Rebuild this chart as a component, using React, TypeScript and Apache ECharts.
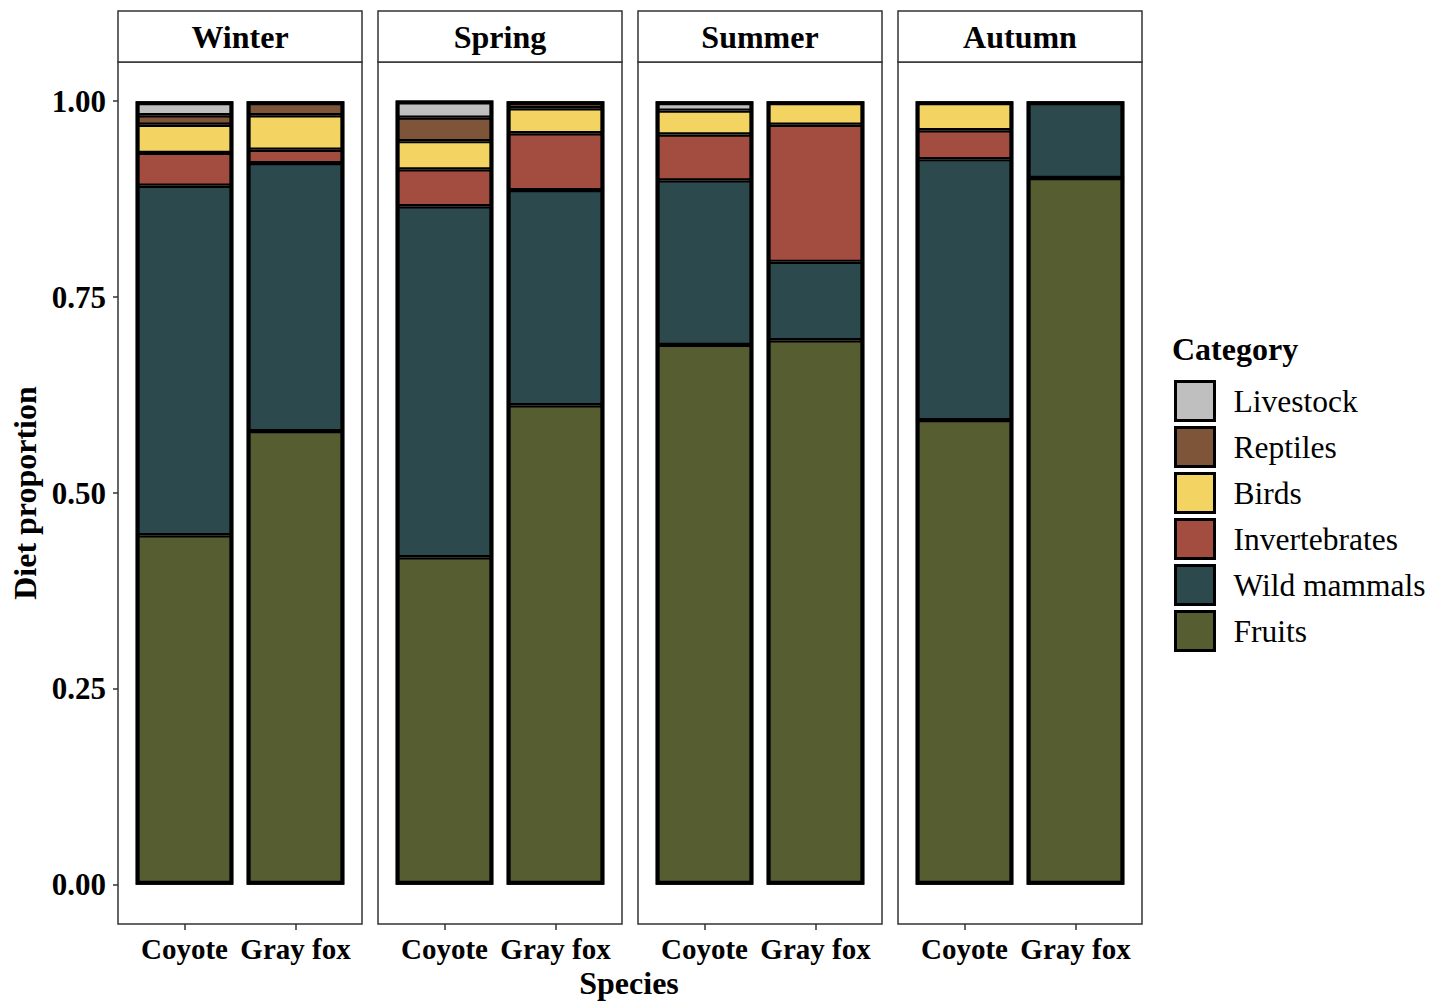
import React, { useEffect, useRef } from "react";
import * as echarts from "echarts";

const seasons = ["Winter", "Spring", "Summer", "Autumn"];
const species = ["Coyote", "Gray fox"];
const categories = ["Livestock", "Reptiles", "Birds", "Invertebrates", "Wild mammals", "Fruits"];
const colors = ["#BFBFBF", "#7F5539", "#F3D462", "#A34C40", "#2C4A4D", "#565E31"];
const yTicks = [0, 0.25, 0.5, 0.75, 1];

// values ordered: Winter(Coyote, Gray fox), Spring(...), Summer(...), Autumn(...)
const livestock = [0.018, 0, 0.022, 0, 0.012, 0, 0, 0];
const reptiles = [0.012, 0.018, 0.03, 0.009, 0, 0, 0, 0];
const birds = [0.036, 0.044, 0.036, 0.032, 0.0305, 0.03, 0.037, 0];
const invertebrates = [0.042, 0.017, 0.047, 0.0725, 0.0585, 0.175, 0.037, 0];
const wildMammals = [0.446, 0.342, 0.448, 0.2745, 0.21, 0.1, 0.333, 0.098];
const fruits = [0.446, 0.579, 0.418, 0.612, 0.689, 0.695, 0.593, 0.902];

const valuesByCategory = [livestock, reptiles, birds, invertebrates, wildMammals, fruits];

const FONT = "'Liberation Serif', 'Times New Roman', serif";

export default function App() {
  const ref = useRef<HTMLDivElement>(null);
  useEffect(() => {
    document.body.style.margin = "0";
    const chart = echarts.init(ref.current!, null, { renderer: "svg" });
    const panelLeft = [118, 378, 638, 898];
    const panelW = 244;
    const top = 62;
    const bottom = 924;
    const grids: any[] = [];
    const xAxes: any[] = [];
    const yAxes: any[] = [];
    const series: any[] = [];
    const graphics: any[] = [];
    seasons.forEach((season, s) => {
      grids.push({ left: panelLeft[s] + 11, width: panelW - 22, top, height: bottom - top, outerBoundsMode: "none" });
      xAxes.push({
        type: "category",
        gridIndex: s,
        position: "bottom",
        data: species,
        axisLine: { show: true, onZero: false, lineStyle: { color: "rgba(0,0,0,0)", width: 0 } },
        axisTick: { show: true, alignWithLabel: true, length: 6, lineStyle: { color: "#333", width: 1.5 } },
        axisLabel: { interval: 0, fontFamily: FONT, fontWeight: "bold", fontSize: 29, color: "#000", margin: 10 },
      });
      yAxes.push({
        type: "value",
        gridIndex: s,
        min: -0.05,
        max: 1.05,
        offset: 11,
        splitLine: { show: false },
        axisLine: { show: false, onZero: false },
        axisTick: { show: s === 0, customValues: yTicks, length: 5, lineStyle: { color: "#333", width: 1.5 } },
        axisLabel: {
          show: s === 0,
          customValues: yTicks,
          formatter: (v: number) => v.toFixed(2),
          fontFamily: FONT,
          fontWeight: "bold",
          fontSize: 31,
          color: "#000",
          margin: 12,
        },
      });
      for (let c = categories.length - 1; c >= 0; c--) {
        const vals = valuesByCategory[c];
        series.push({
          type: "bar",
          name: categories[c],
          xAxisIndex: s,
          yAxisIndex: s,
          stack: "st" + s,
          barWidth: "88%",
          barGap: "-100%",
          data: [vals[2 * s], vals[2 * s + 1]].map((v) => (v === 0 ? null : v)),
          itemStyle: { color: colors[c], borderColor: "#000", borderWidth: 2.2 },
        });
      }
      const totals = [0, 1].map((k) =>
        valuesByCategory.reduce((acc, arr) => acc + arr[2 * s + k], 0)
      );
      series.push({
        type: "bar",
        name: "outline",
        xAxisIndex: s,
        yAxisIndex: s,
        stack: "outline" + s,
        barWidth: "88%",
        barGap: "-100%",
        silent: true,
        data: totals,
        itemStyle: { color: "rgba(0,0,0,0)", borderColor: "#000", borderWidth: 4 },
      });
      graphics.push({
        type: "rect",
        shape: { x: panelLeft[s], y: top, width: panelW, height: bottom - top },
        style: { fill: "none", stroke: "#333", lineWidth: 1.5 },
        z: 10,
      });
      graphics.push({
        type: "rect",
        shape: { x: panelLeft[s], y: 11, width: panelW, height: top - 11 },
        style: { fill: "#fff", stroke: "#333", lineWidth: 1.5 },
        z: 10,
      });
      graphics.push({
        type: "text",
        x: panelLeft[s] + panelW / 2,
        y: 37,
        z: 11,
        style: {
          text: season,
          font: `bold 32px ${FONT}`,
          fill: "#000",
          textAlign: "center",
          textVerticalAlign: "middle",
        },
      });
    });
    graphics.push({
      type: "text",
      x: 629,
      y: 983,
      style: { text: "Species", font: `bold 32px ${FONT}`, fill: "#000", textAlign: "center", textVerticalAlign: "middle" },
    });
    graphics.push({
      type: "text",
      x: 25,
      y: 493,
      rotation: Math.PI / 2,
      style: { text: "Diet proportion", font: `bold 32px ${FONT}`, fill: "#000", textAlign: "center", textVerticalAlign: "middle" },
    });
    graphics.push({
      type: "text",
      x: 1172,
      y: 349,
      style: { text: "Category", font: `bold 32px ${FONT}`, fill: "#000", textAlign: "left", textVerticalAlign: "middle" },
    });

    chart.setOption({
      animation: false,
      grid: grids,
      xAxis: xAxes,
      yAxis: yAxes,
      series,
      legend: {
        data: categories,
        orient: "vertical",
        left: 1174,
        top: 380,
        padding: 0,
        icon: "rect",
        itemWidth: 39,
        itemHeight: 39,
        itemGap: 4,
        itemStyle: { borderColor: "#000", borderWidth: 3 },
        textStyle: { fontFamily: FONT, fontSize: 31.5, color: "#000", padding: [0, 0, 0, 14] },
        selectedMode: false,
      },
      graphic: graphics,
    });
    return () => chart.dispose();
  }, []);
  return <div ref={ref} style={{ width: 1442, height: 1001 }} />;
}
